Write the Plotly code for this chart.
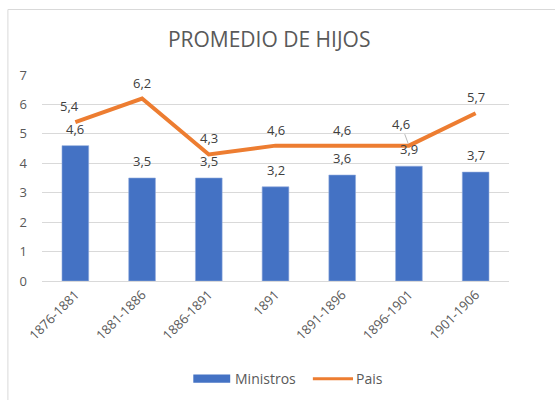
import plotly.graph_objects as go

periodos = ["1876-1881", "1881-1886", "1886-1891", "1891", "1891-1896", "1896-1901", "1901-1906"]
ministros = [4.6, 3.5, 3.5, 3.2, 3.6, 3.9, 3.7]
pais = [5.4, 6.2, 4.3, 4.6, 4.6, 4.6, 5.7]
y_ticks = [0, 1, 2, 3, 4, 5, 6, 7]

AZUL = "#4472C4"
NARANJA = "#ED7D31"
GRIS_TXT = "#595959"
GRIS_LBL = "#404040"
FUENTE = "Open Sans"

fig = go.Figure()
fig.add_trace(go.Bar(
    x=periodos, y=ministros, name="Ministros",
    marker=dict(color=AZUL, line=dict(color="#8FAADC", width=0.6)),
))
fig.add_trace(go.Scatter(
    x=periodos, y=pais, name="Pais", mode="lines",
    line=dict(color=NARANJA, width=4),
))

def fmt(v):
    return f"{v:.1f}".replace(".", ",")

# etiquetas de datos colocadas por índice de categoría
anns = []
for i, v in enumerate(ministros):
    anns.append(dict(x=i, y=v, text=fmt(v), showarrow=False, yshift=17,
                     font=dict(size=13, color=GRIS_LBL, family=FUENTE)))
for i, v in enumerate(pais):
    if i == 5:
        anns.append(dict(x=i, y=v, text=fmt(v), showarrow=True, arrowhead=0,
                         arrowwidth=0.8, arrowcolor="#A6A6A6", ax=-8, ay=-22,
                         standoff=2,
                         font=dict(size=13, color=GRIS_LBL, family=FUENTE)))
    else:
        anns.append(dict(x=i, y=v, text=fmt(v), showarrow=False, yshift=16,
                         xshift=-6 if i == 0 else 0,
                         font=dict(size=13, color=GRIS_LBL, family=FUENTE)))

# leyenda dibujada a mano: barra ancha para Ministros y trazo para Pais
ley_y = -0.474
shapes = [
    dict(type="rect", xref="paper", yref="paper", x0=-0.073, x1=1.12,
         y0=-0.62, y1=1.318, line=dict(color="#D9D9D9", width=1),
         fillcolor="rgba(0,0,0,0)", layer="below"),
    dict(type="rect", xref="paper", yref="paper", x0=0.324, x1=0.403,
         y0=ley_y - 0.02, y1=ley_y + 0.02, line=dict(width=0), fillcolor=AZUL),
    dict(type="line", xref="paper", yref="paper", x0=0.580, x1=0.666,
         y0=ley_y, y1=ley_y, line=dict(color=NARANJA, width=3)),
]
for nombre, xpos in [(fig.data[0].name, 0.408), (fig.data[1].name, 0.669)]:
    anns.append(dict(xref="paper", yref="paper", x=xpos, y=ley_y, text=nombre,
                     showarrow=False, xanchor="left", yanchor="middle",
                     font=dict(size=14, color=GRIS_TXT, family=FUENTE)))

fig.update_layout(
    width=555, height=400,
    margin=dict(l=42, r=46, t=75, b=119, pad=0),
    paper_bgcolor="white", plot_bgcolor="white",
    bargap=0.6,
    showlegend=False,
    title=dict(text="PROMEDIO DE HIJOS", x=0.485, xanchor="center", y=0.9, yanchor="middle",
               font=dict(size=21, color=GRIS_TXT, family=FUENTE)),
    font=dict(family=FUENTE, color=GRIS_TXT),
    xaxis=dict(type="category", range=[-0.5, len(periodos) - 0.5], tickangle=-45,
               tickfont=dict(size=13, color=GRIS_TXT), automargin=False,
               showgrid=False, showline=True, linecolor="#D9D9D9", ticks=""),
    yaxis=dict(range=[0, 7], tickvals=y_ticks, tickfont=dict(size=13, color=GRIS_TXT),
               gridcolor="#D9D9D9", gridwidth=1, zeroline=False, ticks="",
               ticklabelstandoff=14, automargin=False),
    annotations=anns,
    shapes=shapes,
)

fig.write_html("out.html")
